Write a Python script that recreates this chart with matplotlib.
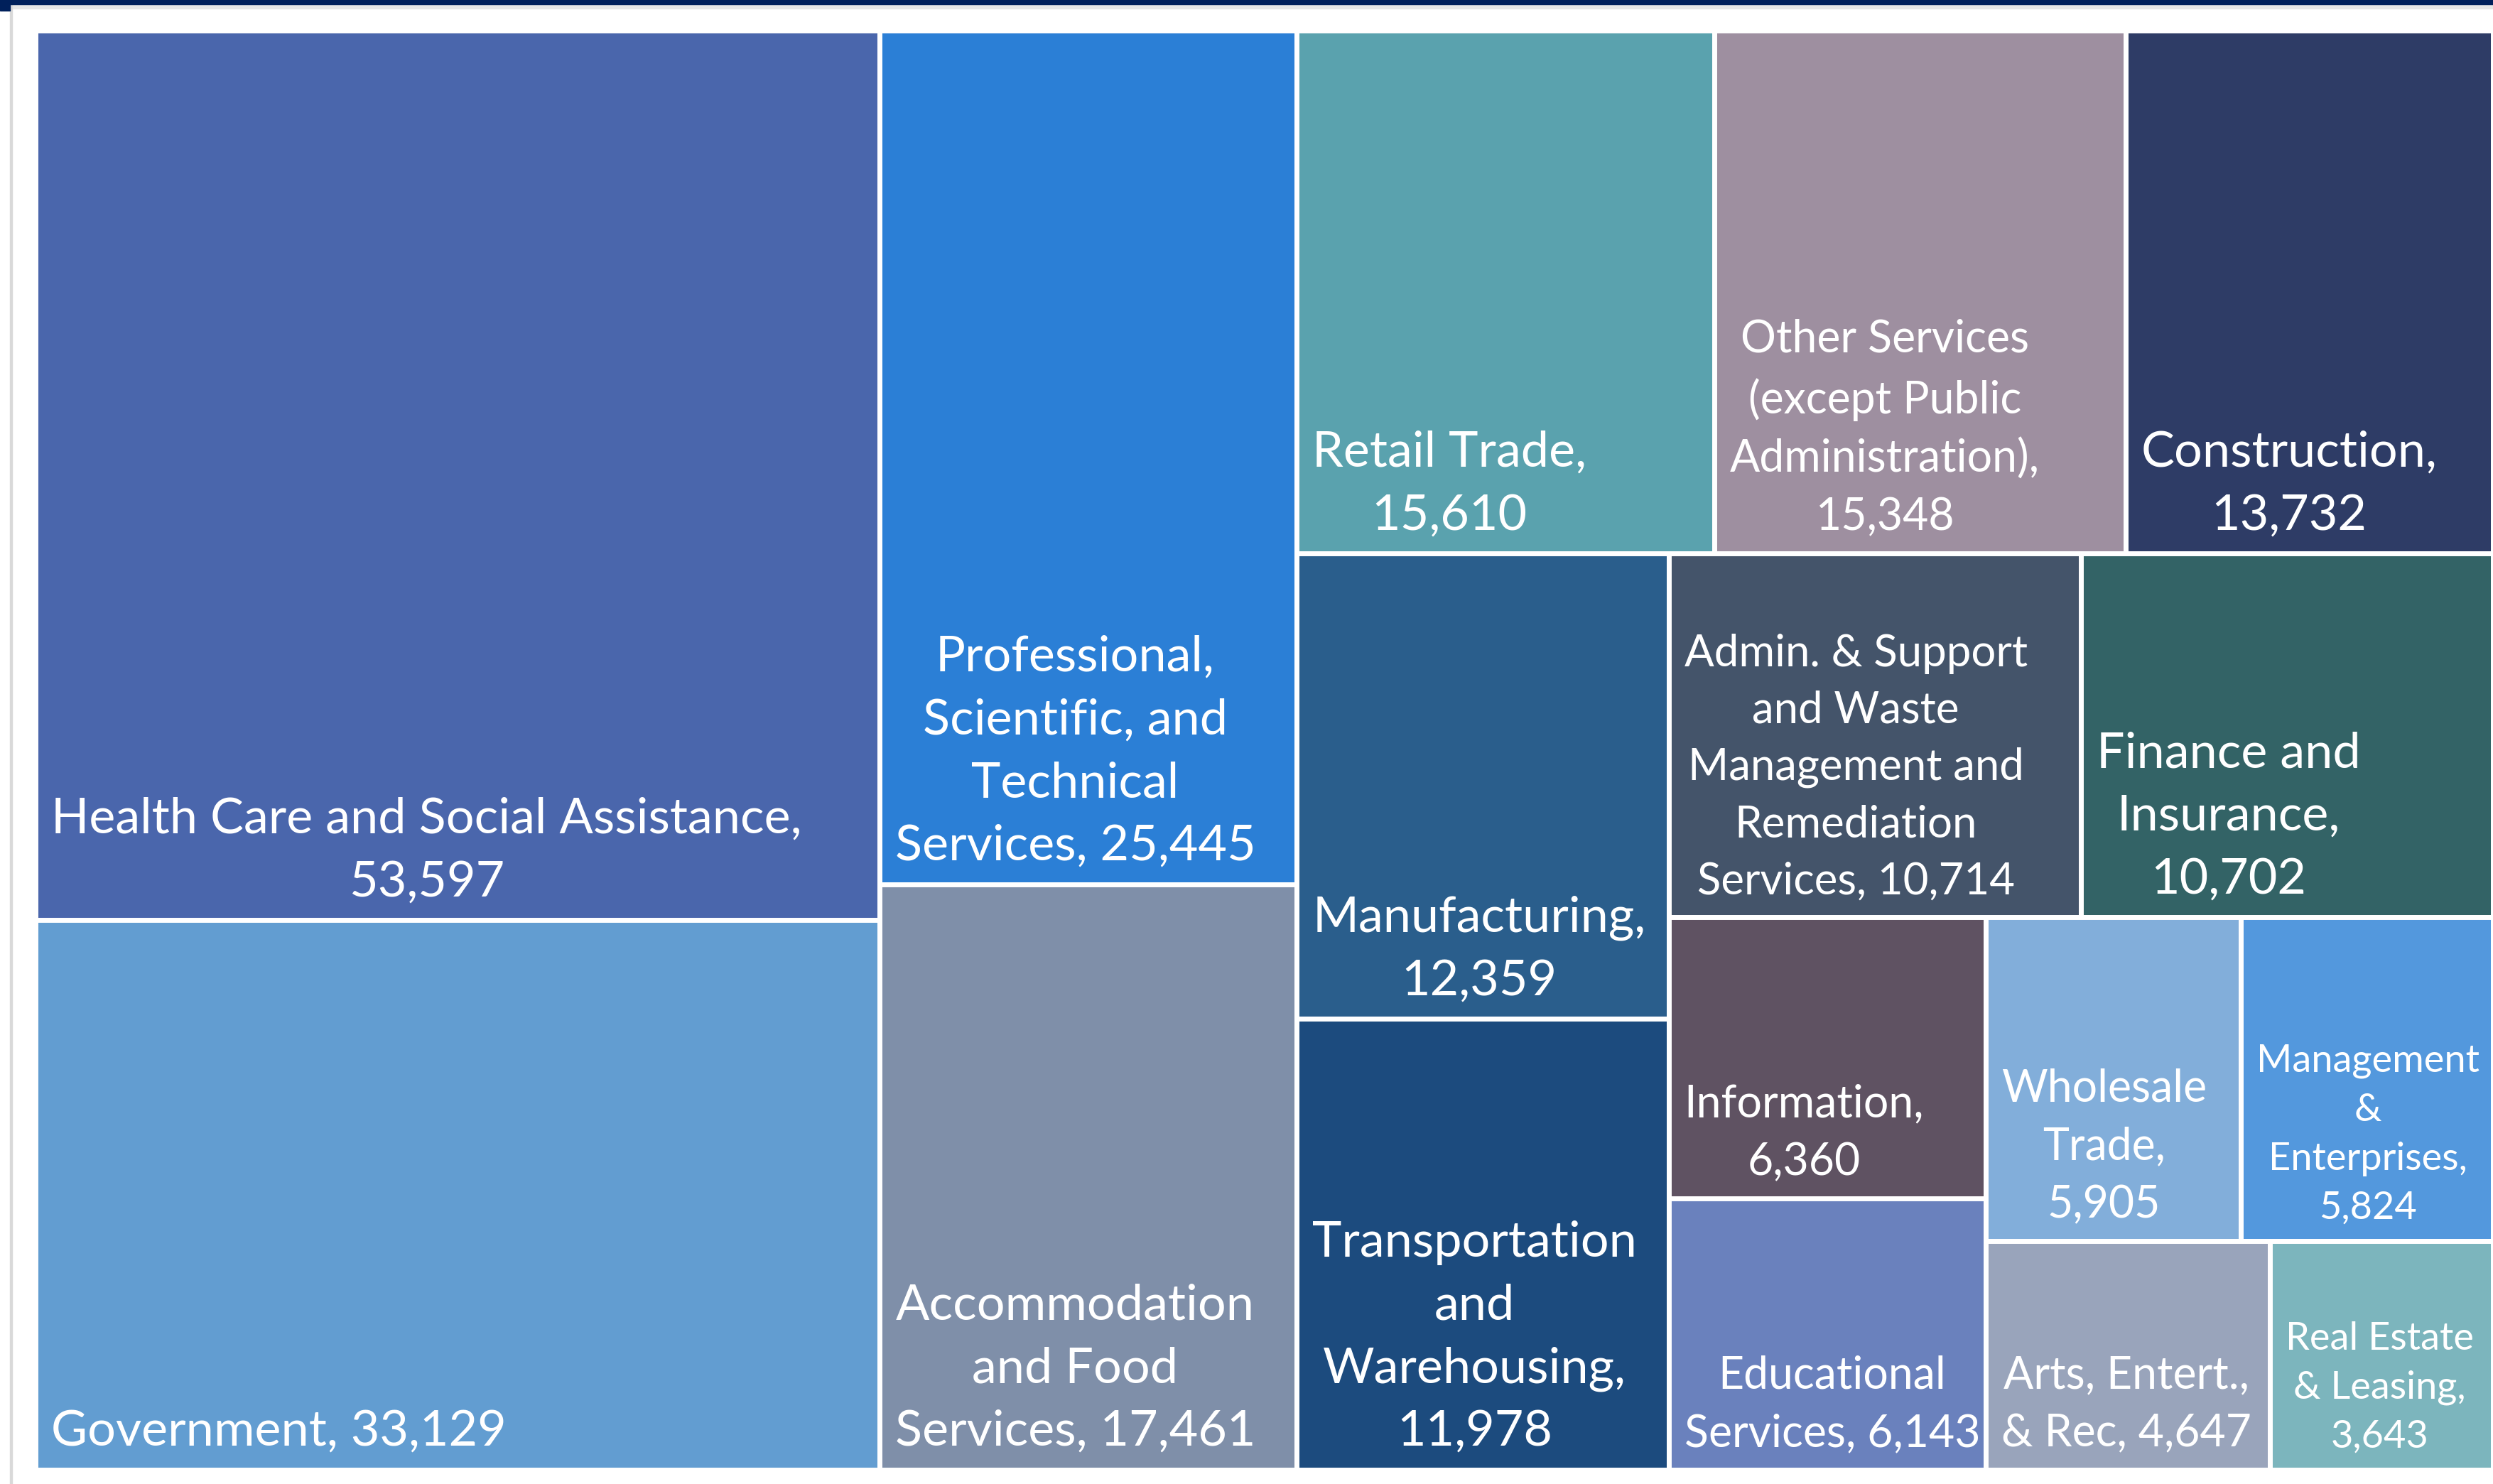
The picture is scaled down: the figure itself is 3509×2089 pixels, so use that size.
import matplotlib.pyplot as plt
from matplotlib.patches import Rectangle

plt.rcParams['font.family'] = ['Lato', 'DejaVu Sans']

# employment by industry (labels keep the wrapping used in the chart)
industries = ["Health Care and Social Assistance,\n", "Government, ",
              "Professional,\nScientific, and\nTechnical\nServices, ",
              "Accommodation\nand Food\nServices, ", "Retail Trade,\n",
              "Other Services\n(except Public\nAdministration),\n",
              "Construction,\n", "Manufacturing,\n",
              "Transportation\nand\nWarehousing,\n",
              "Admin. & Support\nand Waste\nManagement and\nRemediation\nServices, ",
              "Finance and\nInsurance,\n", "Information,\n",
              "Educational\nServices, ", "Wholesale\nTrade,\n",
              "Management\n&\nEnterprises,\n", "Arts, Entert.,\n& Rec, ",
              "Real Estate\n& Leasing,\n"]
employment = [53597, 33129, 25445, 17461, 15610, 15348, 13732, 12359, 11978,
              10714, 10702, 6360, 6143, 5905, 5824, 4647, 3643]

colors = ["#4A66AC", "#629DD1", "#2B7FD6", "#7F8FA9", "#5AA2AE", "#9E8FA0",
          "#2E3C66", "#2A5E8C", "#1C4B7E", "#44546A", "#336366", "#5F5262",
          "#6A81BD", "#82AEDA", "#5398DD", "#99A4BB", "#7CB5BD"]
text_sizes = [50.5, 50.5, 50.5, 50.5, 50.5, 45, 50.5, 50.5, 50.5, 44.5, 50.5, 45, 45, 45, 39, 45, 39]


def treemap(vals, x, y, w, h):
    # greedy strips: keep adding while the newest box gets squarer
    scale = w * h / float(sum(vals))
    boxes = []
    i = 0
    while i < len(vals):
        side = h if w >= h else w
        strip = [vals[i]]
        thick = vals[i] * scale / side
        best = max(thick / side, side / thick)
        j = i + 1
        while j < len(vals):
            t = (sum(strip) + vals[j]) * scale / side
            l = vals[j] * scale / t
            r = max(t / l, l / t)
            if r > best:
                break
            strip.append(vals[j])
            best = r
            j += 1
        thick = sum(strip) * scale / side
        pos = 0.0
        for v in strip:
            l = v * scale / thick
            if w >= h:
                boxes.append((x, y + pos, thick, l))
            else:
                boxes.append((x + pos, y, l, thick))
            pos += l
        if w >= h:
            x += thick
            w -= thick
        else:
            y += thick
            h -= thick
        i = j
    return boxes


fig = plt.figure(figsize=(35.09, 20.89), dpi=100)
W, H = 3459.0, 2026.0
ax = fig.add_axes([50 / 3509, 20 / 2089, W / 3509, H / 2089])
ax.set_xlim(0, W)
ax.set_ylim(H, 0)
ax.axis('off')

boxes = treemap(employment, 0, 0, W, H)
for k, (bx, by, bw, bh) in enumerate(boxes):
    ax.add_patch(Rectangle((bx, by), bw, bh, facecolor=colors[k],
                           edgecolor='white', linewidth=5))
    ax.text(bx + 22, by + bh - 22, industries[k] + f"{employment[k]:,}",
            ha='left', va='bottom', multialignment='center', color='white',
            fontsize=text_sizes[k], linespacing=1.5)

# page decorations: navy bar on top, grey rule on the left
fig.add_artist(Rectangle((0, 1 - 6 / 2089), 1, 6 / 2089, transform=fig.transFigure,
                         color='#00205B', zorder=5))
fig.add_artist(Rectangle((0, 1 - 15 / 2089), 14 / 3509, 15 / 2089,
                         transform=fig.transFigure, color='#00205B', zorder=5))
fig.add_artist(Rectangle((0, 1 - 12 / 2089), 1, 6 / 2089, transform=fig.transFigure,
                         color='#E6E6E6', zorder=4))
fig.add_artist(Rectangle((14 / 3509, 0), 3 / 3509, 1, transform=fig.transFigure,
                         color='#D9D9D9', zorder=4))

fig.savefig('out.png', dpi=100)
